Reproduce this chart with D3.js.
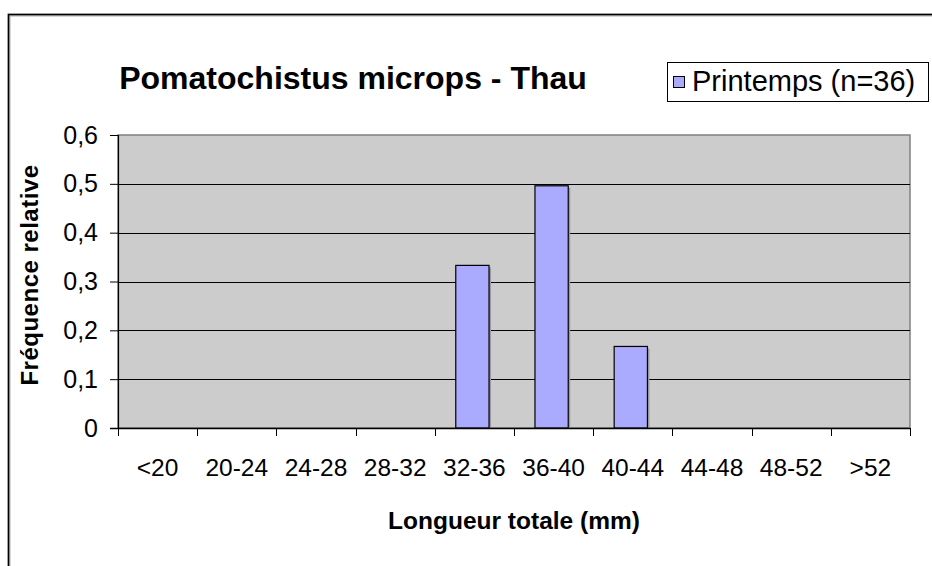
<!DOCTYPE html>
<html>
<head>
<meta charset="utf-8">
<script src="https://cdn.jsdelivr.net/npm/d3@7"></script>
<style>
  body { margin: 0; background: #fff; }
  text { font-family: Arial, "Liberation Sans", sans-serif; fill: #000; }
</style>
</head>
<body>
<div id="chart"></div>
<script>
// classes de longueur et fréquences relatives (printemps)
var categories = ["<20", "20-24", "24-28", "28-32", "32-36", "36-40", "40-44", "44-48", "48-52", ">52"];
var frequences = [0, 0, 0, 0, 0.333, 0.496, 0.167, 0, 0, 0];
var yTicks = [0, 0.1, 0.2, 0.3, 0.4, 0.5, 0.6];
var seriesName = "Printemps (n=36)";

var W = 932, H = 566;
var plot = { left: 118, right: 910, top: 135, bottom: 428 };

var svg = d3.select("#chart")
  .append("svg")
  .attr("width", W)
  .attr("height", H);

// outer frame of the chart object
svg.append("path")
  .attr("d", "M9," + (H + 5) + "V15H" + (W + 5))
  .attr("fill", "none")
  .attr("stroke", "#b0b0b0")
  .attr("stroke-width", 3);
svg.append("path")
  .attr("d", "M8.5," + (H + 5) + "V14.5H" + (W + 5))
  .attr("fill", "none")
  .attr("stroke", "#000")
  .attr("stroke-width", 1.5);

// scales
var x = d3.scaleBand()
  .domain(categories)
  .range([plot.left, plot.right])
  .paddingInner(0.58)
  .paddingOuter(0.29);
var y = d3.scaleLinear()
  .domain([0, 0.6])
  .range([plot.bottom, plot.top]);

var step = x.step();
function center(c) { return x(c) + x.bandwidth() / 2; }

// plot area
svg.append("rect")
  .attr("x", plot.left)
  .attr("y", plot.top)
  .attr("width", plot.right - plot.left)
  .attr("height", plot.bottom - plot.top)
  .attr("fill", "#cccccc")
  .attr("stroke", "#808080")
  .attr("stroke-width", 1.5);

// gridlines
svg.append("g")
  .selectAll("line")
  .data(yTicks.filter(function(d) { return d > 0 && d < 0.6; }))
  .enter()
  .append("line")
  .attr("x1", plot.left)
  .attr("x2", plot.right)
  .attr("y1", function(d) { return Math.round(y(d)) + 0.5; })
  .attr("y2", function(d) { return Math.round(y(d)) + 0.5; })
  .attr("stroke", "#000")
  .attr("stroke-width", 1);

// bars (with the small grey shadow on the right)
var barData = frequences.map(function(v, i) { return { c: categories[i], v: v }; })
  .filter(function(d) { return d.v > 0; });
svg.append("g")
  .selectAll("rect")
  .data(barData)
  .enter()
  .append("rect")
  .attr("x", function(d) { return x(d.c) - 2 + x.bandwidth(); })
  .attr("y", function(d) { return y(d.v) + 2; })
  .attr("width", 2)
  .attr("height", function(d) { return y(0) - y(d.v) - 2; })
  .attr("fill", "#9a9a9a");
svg.append("g")
  .selectAll("rect")
  .data(barData)
  .enter()
  .append("rect")
  .attr("x", function(d) { return x(d.c) - 2; })
  .attr("y", function(d) { return y(d.v); })
  .attr("width", x.bandwidth())
  .attr("height", function(d) { return y(0) - y(d.v); })
  .attr("fill", "#aaaaff")
  .attr("stroke", "#000")
  .attr("stroke-width", 1.2);

// Y axis
var yAxis = d3.axisLeft(y)
  .tickValues(yTicks)
  .tickSize(8)
  .tickPadding(12)
  .tickFormat(function(d) { return d === 0 ? "0" : d3.format(".1f")(d).replace(".", ","); });
var gy = svg.append("g")
  .attr("transform", "translate(" + plot.left + ",0)")
  .call(yAxis);
gy.select(".domain").attr("stroke", "#000").attr("stroke-width", 1.2);
gy.selectAll(".tick line").attr("stroke", "#000");
gy.selectAll("text")
  .style("font-size", "25px")
  .style("font-family", "Arial, 'Liberation Sans', sans-serif");

// X axis: ticks at class boundaries, labels centred on classes
var gx = svg.append("g");
gx.append("line")
  .attr("x1", plot.left - 8)
  .attr("x2", plot.right)
  .attr("y1", plot.bottom + 0.5)
  .attr("y2", plot.bottom + 0.5)
  .attr("stroke", "#000")
  .attr("stroke-width", 1.5);
var bounds = categories.map(function(c) { return center(c) - step / 2; })
  .concat([center(categories[categories.length - 1]) + step / 2]);
gx.selectAll(".xtick")
  .data(bounds)
  .enter()
  .append("line")
  .attr("class", "xtick")
  .attr("x1", function(d) { return Math.round(d) + 0.5; })
  .attr("x2", function(d) { return Math.round(d) + 0.5; })
  .attr("y1", plot.bottom)
  .attr("y2", plot.bottom + 8)
  .attr("stroke", "#000");
gx.selectAll(".xlabel")
  .data(categories)
  .enter()
  .append("text")
  .attr("class", "xlabel")
  .attr("x", function(d) { return center(d); })
  .attr("y", 476)
  .attr("text-anchor", "middle")
  .style("font-size", "24.5px")
  .text(function(d) { return d; });

// axis titles
svg.append("text")
  .attr("x", 514)
  .attr("y", 529)
  .attr("text-anchor", "middle")
  .style("font-size", "24.5px")
  .style("font-weight", "bold")
  .text("Longueur totale (mm)");
svg.append("text")
  .attr("transform", "translate(38,275) rotate(-90)")
  .attr("text-anchor", "middle")
  .style("font-size", "24px")
  .style("font-weight", "bold")
  .style("letter-spacing", "0.5px")
  .text("Fréquence relative");

// chart title
svg.append("text")
  .attr("x", 353)
  .attr("y", 89)
  .attr("text-anchor", "middle")
  .style("font-size", "32px")
  .style("font-weight", "bold")
  .text("Pomatochistus microps - Thau");

// legend
var legend = svg.append("g");
legend.append("rect")
  .attr("x", 667.5)
  .attr("y", 62.5)
  .attr("width", 261)
  .attr("height", 39)
  .attr("fill", "#fff")
  .attr("stroke", "#000");
legend.append("rect")
  .attr("x", 673.5)
  .attr("y", 76.5)
  .attr("width", 11)
  .attr("height", 11)
  .attr("fill", "#aaaaff")
  .attr("stroke", "#000");
legend.append("text")
  .attr("x", 692)
  .attr("y", 91)
  .style("font-size", "29px")
  .text(seriesName);
</script>
</body>
</html>
